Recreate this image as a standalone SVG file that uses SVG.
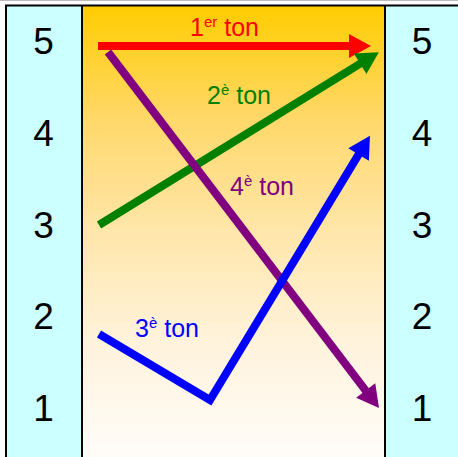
<svg xmlns="http://www.w3.org/2000/svg" width="458" height="457" viewBox="0 0 458 457">
  <style>
    .num { font-family: "Liberation Sans", Arial, sans-serif; font-size: 37px; fill: #000; text-anchor: middle; }
    .lbl { font-family: "Liberation Sans", Arial, sans-serif; font-size: 25px; }
    .sup { font-size: 15px; }
    .frame { fill: none; stroke: #000; stroke-width: 2; }
    .conn { fill: none; stroke-width: 8; stroke-linecap: butt; stroke-linejoin: miter; }
  </style>
  <defs>
    <linearGradient id="bg" x1="0" y1="0" x2="0" y2="1">
      <stop offset="0" stop-color="#FFCC00"/>
      <stop offset="0.25" stop-color="#FFD86A"/>
      <stop offset="0.5" stop-color="#FFE6AA"/>
      <stop offset="0.75" stop-color="#FFF3DD"/>
      <stop offset="1" stop-color="#FFFCF8"/>
    </linearGradient>
    <marker id="hRed" markerUnits="userSpaceOnUse" markerWidth="24" markerHeight="26" viewBox="0 -13 24 26" refX="1" refY="0" orient="auto" overflow="visible">
      <path d="M0,-12 L22,0 L0,12 z" fill="#FF0000"/>
    </marker>
    <marker id="hGreen" markerUnits="userSpaceOnUse" markerWidth="24" markerHeight="26" viewBox="0 -13 24 26" refX="1" refY="0" orient="auto" overflow="visible">
      <path d="M0,-12 L22,0 L0,12 z" fill="#008000"/>
    </marker>
    <marker id="hPurple" markerUnits="userSpaceOnUse" markerWidth="24" markerHeight="26" viewBox="0 -13 24 26" refX="1" refY="0" orient="auto" overflow="visible">
      <path d="M0,-12 L22,0 L0,12 z" fill="#800080"/>
    </marker>
    <marker id="hBlue" markerUnits="userSpaceOnUse" markerWidth="24" markerHeight="26" viewBox="0 -13 24 26" refX="1" refY="0" orient="auto" overflow="visible">
      <path d="M0,-12 L22,0 L0,12 z" fill="#0000FF"/>
    </marker>
  </defs>

  <rect x="0" y="0" width="458" height="457" fill="#FFFFFF"/>
  <line x1="0" y1="0.5" x2="458" y2="0.5" stroke="#BBBBBB" stroke-width="1"/>

  <g id="left-column">
    <rect x="6" y="6" width="76" height="452" fill="#CCFFFF"/>
    <text class="num" x="43.5" y="54">5</text>
    <text class="num" x="43.5" y="146">4</text>
    <text class="num" x="43.5" y="238">3</text>
    <text class="num" x="43.5" y="329">2</text>
    <text class="num" x="43.5" y="421">1</text>
  </g>

  <g id="middle">
    <rect x="82" y="6" width="303" height="452" fill="url(#bg)"/>
  </g>

  <g id="right-column">
    <rect x="385" y="6" width="74" height="452" fill="#CCFFFF"/>
    <text class="num" x="422" y="54">5</text>
    <text class="num" x="422" y="146">4</text>
    <text class="num" x="422" y="238">3</text>
    <text class="num" x="422" y="329">2</text>
    <text class="num" x="422" y="421">1</text>
  </g>

  <g id="frame">
    <line class="frame" x1="5" y1="5.5" x2="458" y2="5.5"/>
    <line class="frame" x1="6" y1="5" x2="6" y2="457"/>
    <line class="frame" x1="82" y1="5" x2="82" y2="457"/>
    <line class="frame" x1="385" y1="5" x2="385" y2="457"/>
  </g>

  <g id="connectors">
    <path class="conn" stroke="#FF0000" d="M98,46 L350,46" marker-end="url(#hRed)"/>
    <path class="conn" stroke="#008000" d="M99,225 L361,63.2" marker-end="url(#hGreen)"/>
    <path class="conn" stroke="#800080" stroke-width="7" d="M108,52 L366.3,391.3" marker-end="url(#hPurple)"/>
    <path class="conn" stroke="#0000FF" stroke-width="7" d="M99,334 L210,400 L359.1,153.6" marker-end="url(#hBlue)"/>
  </g>

  <g id="labels">
    <text class="lbl" x="190" y="36" fill="#FF0000">1<tspan class="sup" dy="-9">er</tspan><tspan dy="9"> ton</tspan></text>
    <text class="lbl" x="207" y="104" fill="#008000">2<tspan class="sup" dy="-9">è</tspan><tspan dy="9"> ton</tspan></text>
    <text class="lbl" x="230" y="195" fill="#800080">4<tspan class="sup" dy="-9">è</tspan><tspan dy="9"> ton</tspan></text>
    <text class="lbl" x="135" y="337" fill="#0000FF">3<tspan class="sup" dy="-9">è</tspan><tspan dy="9"> ton</tspan></text>
  </g>
</svg>
